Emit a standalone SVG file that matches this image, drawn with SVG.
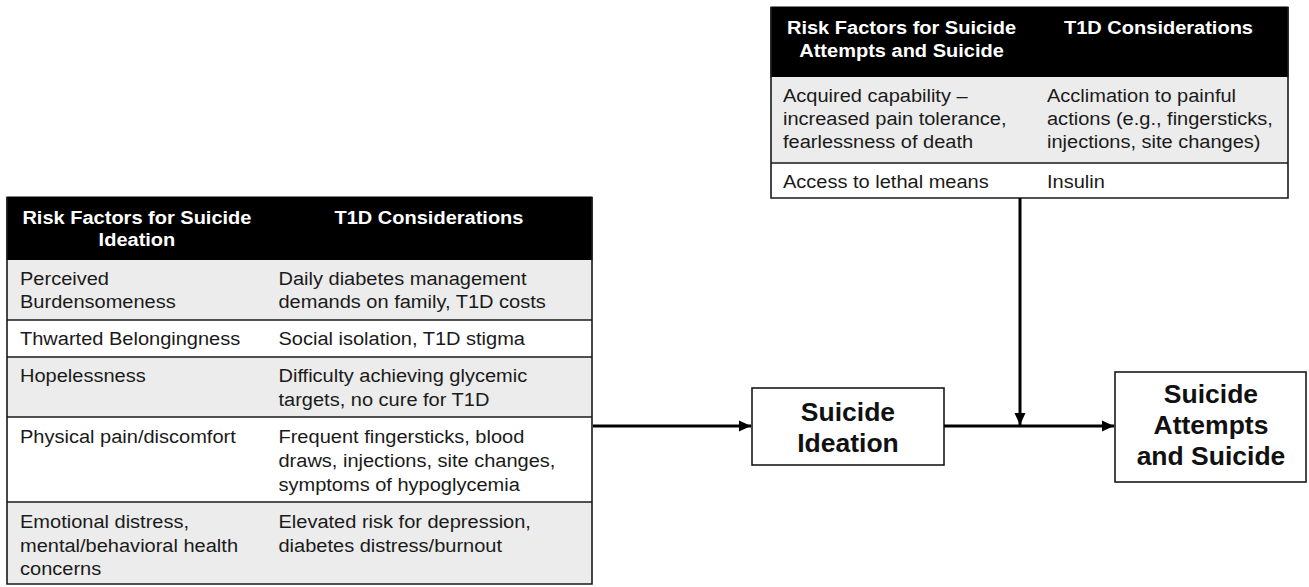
<svg xmlns="http://www.w3.org/2000/svg" width="1309" height="587" viewBox="0 0 1309 587">
<defs>
<style>
.t{font-family:"Liberation Sans",Arial,Helvetica,sans-serif;font-size:18.8px;fill:#1a1a1a}
.h{font-family:"Liberation Sans",Arial,Helvetica,sans-serif;font-size:18.8px;font-weight:bold;fill:#fff;text-anchor:middle}
.b{font-family:"Liberation Sans",Arial,Helvetica,sans-serif;font-size:26.5px;font-weight:bold;fill:#111;text-anchor:middle}
.hd{fill:#000;stroke:#000;stroke-width:1}
.g{fill:#ececec}
.w{fill:#fff}
.ln{stroke:#1a1a1a;stroke-width:1.6;fill:none}
.box{fill:#fff;stroke:#1a1a1a;stroke-width:1.6}
.ar{stroke:#000;stroke-width:3;fill:none}
</style>
<marker id="ah" markerUnits="userSpaceOnUse" markerWidth="14" markerHeight="14" viewBox="0 0 14 14" refX="13" refY="7" orient="auto">
<path d="M1,1.5 L13,7 L1,12.5 Z" fill="#000"/>
</marker>
</defs>
<rect width="1309" height="587" fill="#fff"/>

<g id="ideation-table">
<rect class="hd" x="7" y="197" width="585" height="63"/>
<rect class="g" x="7" y="260" width="585" height="60"/>
<rect class="w" x="7" y="320" width="585" height="37"/>
<rect class="g" x="7" y="357" width="585" height="60"/>
<rect class="w" x="7" y="417" width="585" height="85"/>
<rect class="g" x="7" y="502" width="585" height="82"/>
<path class="ln" d="M7,197 V584 H592 V197 M7,320 H592 M7,357 H592 M7,417 H592 M7,502 H592"/>
<g transform="scale(1.065 1)">
<text class="h" x="128.6" y="224">Risk Factors for Suicide</text>
<text class="h" x="128.6" y="246">Ideation</text>
<text class="h" x="402.8" y="224">T1D Considerations</text>
<text class="t" x="18.8" y="285">Perceived</text>
<text class="t" x="18.8" y="308">Burdensomeness</text>
<text class="t" x="261.5" y="285">Daily diabetes management</text>
<text class="t" x="261.5" y="308">demands on family, T1D costs</text>
<text class="t" x="18.8" y="345">Thwarted Belongingness</text>
<text class="t" x="261.5" y="345">Social isolation, T1D stigma</text>
<text class="t" x="18.8" y="382">Hopelessness</text>
<text class="t" x="261.5" y="382">Difficulty achieving glycemic</text>
<text class="t" x="261.5" y="406">targets, no cure for T1D</text>
<text class="t" x="18.8" y="443">Physical pain/discomfort</text>
<text class="t" x="261.5" y="443">Frequent fingersticks, blood</text>
<text class="t" x="261.5" y="467">draws, injections, site changes,</text>
<text class="t" x="261.5" y="491">symptoms of hypoglycemia</text>
<text class="t" x="18.8" y="528">Emotional distress,</text>
<text class="t" x="18.8" y="552">mental/behavioral health</text>
<text class="t" x="18.8" y="575">concerns</text>
<text class="t" x="261.5" y="528">Elevated risk for depression,</text>
<text class="t" x="261.5" y="552">diabetes distress/burnout</text>
</g>
</g>

<g id="attempts-table">
<rect class="hd" x="771" y="7" width="517" height="70"/>
<rect class="g" x="771" y="77" width="517" height="86"/>
<rect class="w" x="771" y="163" width="517" height="35"/>
<path class="ln" d="M771,7 V198 H1288 V7 M771,163 H1288"/>
<g transform="scale(1.065 1)">
<text class="h" x="846.5" y="34">Risk Factors for Suicide</text>
<text class="h" x="846.5" y="57">Attempts and Suicide</text>
<text class="h" x="1087.8" y="34">T1D Considerations</text>
<text class="t" x="735.2" y="102">Acquired capability –</text>
<text class="t" x="735.2" y="125">increased pain tolerance,</text>
<text class="t" x="735.2" y="148">fearlessness of death</text>
<text class="t" x="983.1" y="102">Acclimation to painful</text>
<text class="t" x="983.1" y="125">actions (e.g., fingersticks,</text>
<text class="t" x="983.1" y="148">injections, site changes)</text>
<text class="t" x="735.2" y="188">Access to lethal means</text>
<text class="t" x="983.1" y="188">Insulin</text>
</g>
</g>

<g id="suicide-ideation">
<rect class="box" x="752" y="388" width="192" height="77"/>
<text class="b" x="848" y="421">Suicide</text>
<text class="b" x="848" y="452">Ideation</text>
</g>

<g id="suicide-attempts">
<rect class="box" x="1115" y="372" width="191" height="110"/>
<text class="b" x="1211" y="403">Suicide</text>
<text class="b" x="1211" y="434">Attempts</text>
<text class="b" x="1211" y="465">and Suicide</text>
</g>

<g id="connectors">
<path class="ar" d="M593,426 H751" marker-end="url(#ah)"/>
<path class="ar" d="M944,426 H1114" marker-end="url(#ah)"/>
<path class="ar" d="M1020,198 V425" marker-end="url(#ah)"/>
</g>
</svg>
